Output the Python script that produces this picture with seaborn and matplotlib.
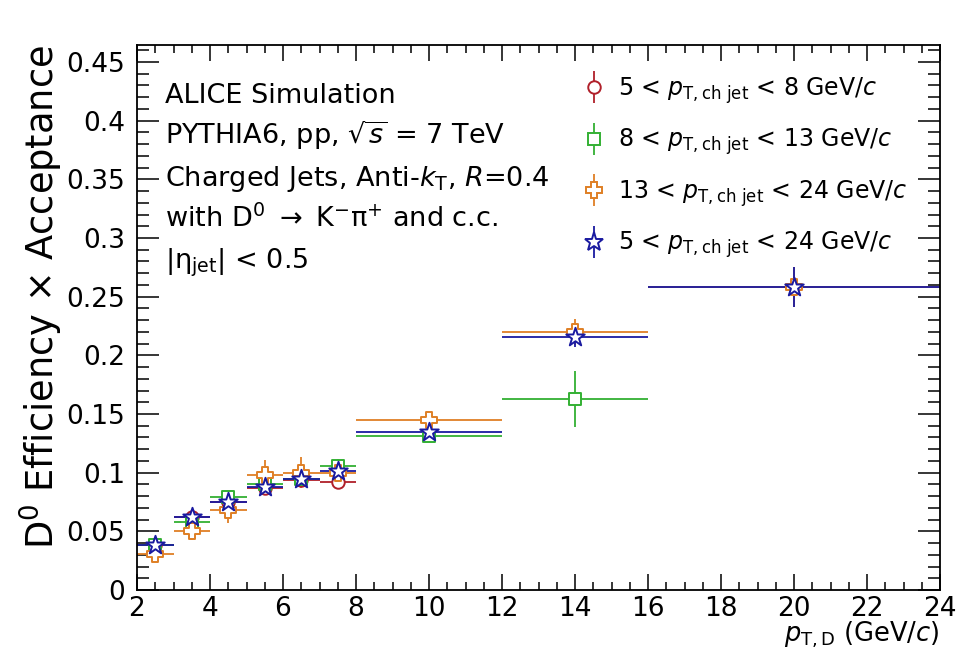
import numpy as np
import pandas as pd
import matplotlib
matplotlib.use('Agg')
import matplotlib.pyplot as plt
import seaborn as sns
from matplotlib.ticker import MultipleLocator
from matplotlib.legend_handler import HandlerErrorbar
from matplotlib.container import ErrorbarContainer

# D0 pT bins (GeV/c)
bin_lo = [2, 3, 4, 5, 6, 7, 8, 12, 16]
bin_hi = [3, 4, 5, 6, 7, 8, 12, 16, 24]

# efficiency x acceptance for each jet pT interval
eff_5_8 = [0.038, 0.062, 0.075, 0.087, 0.094, 0.092]
err_5_8 = [0.003, 0.003, 0.004, 0.004, 0.005, 0.006]
eff_8_13 = [0.038, 0.058, 0.079, 0.090, 0.095, 0.106, 0.131, 0.163]
err_8_13 = [0.004, 0.004, 0.005, 0.005, 0.006, 0.006, 0.004, 0.024]
eff_13_24 = [0.031, 0.050, 0.068, 0.098, 0.100, 0.100, 0.145, 0.220, 0.258]
err_13_24 = [0.007, 0.007, 0.011, 0.013, 0.013, 0.011, 0.006, 0.011, 0.017]
eff_5_24 = [0.038, 0.062, 0.075, 0.0875, 0.0945, 0.101, 0.1345, 0.2155, 0.2585]
err_5_24 = [0.003, 0.003, 0.003, 0.004, 0.004, 0.005, 0.004, 0.008, 0.017]

labels = [r'5 < $p_{\rm T,ch\ jet}$ < 8 GeV/$c$',
          r'8 < $p_{\rm T,ch\ jet}$ < 13 GeV/$c$',
          r'13 < $p_{\rm T,ch\ jet}$ < 24 GeV/$c$',
          r'5 < $p_{\rm T,ch\ jet}$ < 24 GeV/$c$']
colors = ['#b0202a', '#33b033', '#df7f25', '#1a1aa0']
markers = ['o', 's', 'P', '*']
sizes = [9, 9, 12, 14]   # marker size in points

def make_df(eff, err, name):
    n = len(eff)
    lo = np.array(bin_lo[:n], dtype=float)
    hi = np.array(bin_hi[:n], dtype=float)
    return pd.DataFrame({'pt': (lo + hi) / 2, 'xerr': (hi - lo) / 2,
                         'eff': eff, 'err': err, 'series': name})

df = pd.concat([make_df(eff_5_8, err_5_8, labels[0]),
                make_df(eff_8_13, err_8_13, labels[1]),
                make_df(eff_13_24, err_13_24, labels[2]),
                make_df(eff_5_24, err_5_24, labels[3])], ignore_index=True)

sns.set_style('ticks')
plt.rcParams['font.family'] = ['DejaVu Sans']
plt.rcParams['mathtext.fontset'] = 'dejavusans'
plt.rcParams['text.color'] = 'black'
plt.rcParams['axes.labelcolor'] = 'black'

fig = plt.figure(figsize=(9.61, 6.55), dpi=100)
ax = fig.add_axes([137/961, 65/655, 803/961, 545/655])

handles = []
for i, name in enumerate(labels):
    sub = df[df['series'] == name]
    ax.errorbar(sub['pt'], sub['eff'], xerr=sub['xerr'], yerr=sub['err'],
                fmt='none', ecolor=colors[i], elinewidth=1.3, capsize=0, zorder=2)
    sns.scatterplot(data=sub, x='pt', y='eff', marker=markers[i], s=sizes[i]**2,
                    color=colors[i], facecolor='white', edgecolor=colors[i],
                    linewidth=1.4, zorder=3 + i, legend=False, ax=ax)
    h = ax.errorbar([], [], yerr=[], fmt=markers[i], color=colors[i], mfc='white',
                    mec=colors[i], ms=sizes[i], mew=1.4, ecolor=colors[i],
                    elinewidth=1.3, ls='none')
    handles.append(h)

ax.set_xlim(2, 24)
ax.set_ylim(0, 0.4645)
ax.xaxis.set_major_locator(MultipleLocator(2))
ax.xaxis.set_minor_locator(MultipleLocator(0.5))
ax.yaxis.set_minor_locator(MultipleLocator(0.01))
ax.set_yticks(np.arange(0, 0.451, 0.05))
ax.set_yticklabels(['0', '0.05', '0.1', '0.15', '0.2', '0.25', '0.3', '0.35', '0.4', '0.45'])

ax.tick_params(which='both', direction='in', top=True, right=True, width=1.1,
               colors='black', labelsize=19)
ax.tick_params(axis='y', which='major', length=16, pad=8.5)
ax.tick_params(axis='y', which='minor', length=8.5)
ax.tick_params(axis='x', which='major', length=11.5, pad=4)
ax.tick_params(axis='x', which='minor', length=5.8)
for sp in ax.spines.values():
    sp.set_linewidth(1.3)
    sp.set_color('black')

ax.set_xlabel(r'$p_{\rm T,D}$ (GeV/$c$)', fontsize=18.5, loc='right')
ax.xaxis.set_label_coords(1.0, -0.055)
ax.set_ylabel(r'D$^{0}$ Efficiency $\times$ Acceptance', fontsize=26.5, loc='top')
ax.yaxis.set_label_coords(-0.0895, 1.0)

info = ['ALICE Simulation',
        r'PYTHIA6, pp, $\sqrt{s}$ = 7 TeV',
        r'Charged Jets, Anti-$k_{\rm T}$, $R$=0.4',
        r'with D$^{0}$ $\rightarrow$ K$^{-}$π$^{+}$ and c.c.',
        r'|η$_{\rm jet}$| < 0.5']
for k, line in enumerate(info):
    ax.text(0.0349, 0.8936 - k * 0.0758, line, transform=ax.transAxes,
            fontsize=19.5, va='baseline', ha='left')

leg = ax.legend(handles, labels, loc='upper left', bbox_to_anchor=(0.554, 0.9446),
                frameon=False, fontsize=17, handlelength=1.0, handletextpad=0.52,
                labelspacing=0.88, borderpad=0, borderaxespad=0, numpoints=1,
                handler_map={ErrorbarContainer: HandlerErrorbar(yerr_size=0.68)})

fig.savefig('out.png', dpi=100)
